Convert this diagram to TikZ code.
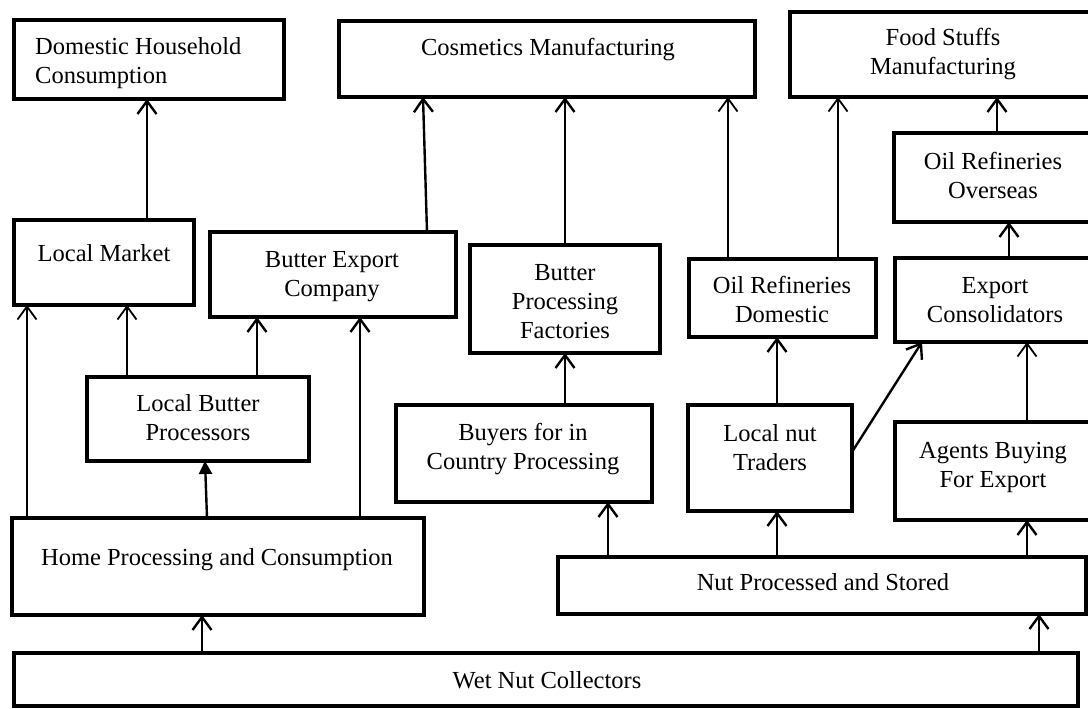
\documentclass[tikz,border=0pt]{standalone}
\usepackage{fontspec}
\setmainfont{Liberation Serif}
\usetikzlibrary{arrows.meta}
\tikzset{
  box/.style={draw, line width=4pt, rectangle, inner sep=0pt, outer sep=0pt, anchor=north west},
  txt/.style={font=\fontsize{24.5}{29}\selectfont, align=center, inner sep=0pt, anchor=base},
  arr/.style={line width=2.4pt, -{Straight Barb[length=13pt,width=19pt]}},
  thinarr/.style={arr, line width=1.8pt},
  fillarr/.style={line width=2.4pt, -{Triangle[length=13pt,width=13pt]}},
}
\begin{document}
\begin{tikzpicture}[x=1pt,y=-1pt]
\useasboundingbox (0,0) rectangle (1088,709);
% boxes
\node[box, minimum width=270, minimum height=79] (dhc) at (14,20) {};
\node[box, minimum width=416, minimum height=76] (cos) at (339,21) {};
\node[box, minimum width=305, minimum height=85] (food) at (790,12) {};
\node[box, minimum width=201, minimum height=89] (oro) at (894,133) {};
\node[box, minimum width=180, minimum height=85] (lm) at (14,220) {};
\node[box, minimum width=246, minimum height=85] (bec) at (210,232) {};
\node[box, minimum width=190, minimum height=108] (bpf) at (470,245) {};
\node[box, minimum width=187, minimum height=78] (ord) at (689,259) {};
\node[box, minimum width=200, minimum height=84] (ec) at (895,258) {};
\node[box, minimum width=222, minimum height=84] (lbp) at (87,377) {};
\node[box, minimum width=256, minimum height=97] (buy) at (396,405) {};
\node[box, minimum width=164, minimum height=106] (lnt) at (688,405) {};
\node[box, minimum width=200, minimum height=98] (abe) at (895,422) {};
\node[box, minimum width=412, minimum height=97] (hpc) at (12,518) {};
\node[box, minimum width=528, minimum height=57] (nps) at (558,557) {};
\node[box, minimum width=1064, minimum height=53] (wnc) at (14,653) {};
% texts (base = baseline of last line)
\node[txt, anchor=base west, align=left] (dhc-t) at (35,84) {Domestic Household\\Consumption};
\node[txt] (cos-t) at (548,56) {Cosmetics Manufacturing};
\node[txt] (food-t) at (943,75) {Food Stuffs\\Manufacturing};
\node[txt] (oro-t) at (993,198) {Oil Refineries\\Overseas};
\node[txt] (lm-t) at (104,261) {Local Market};
\node[txt] (bec-t) at (332,296) {Butter Export\\Company};
\node[txt] (bpf-t) at (565,338) {Butter\\Processing\\Factories};
\node[txt] (ord-t) at (782,322) {Oil Refineries\\Domestic};
\node[txt] (ec-t) at (995,322) {Export\\Consolidators};
\node[txt] (lbp-t) at (198,440) {Local Butter\\Processors};
\node[txt] (buy-t) at (523,469) {Buyers for in\\Country Processing};
\node[txt] (lnt-t) at (770,470) {Local nut\\Traders};
\node[txt] (abe-t) at (993,487) {Agents Buying\\For Export};
\node[txt] (hpc-t) at (217,565) {Home Processing and Consumption};
\node[txt] (nps-t) at (823,590) {Nut Processed and Stored};
\node[txt] (wnc-t) at (547,688) {Wet Nut Collectors};
% connectors
\draw[arr] (lm.north -| 147,0) -- (dhc.south -| 147,0);
\draw[arr] (bec.north -| 427,0) -- (cos.south -| 423,0);
\draw[arr] (bpf.north) -- (cos.south -| bpf.north);
\draw[thinarr] (ord.north -| 728,0) -- (cos.south -| 728,0);
\draw[thinarr] (ord.north -| 838,0) -- (food.south -| 838,0);
\draw[arr] (oro.north -| 997,0) -- (food.south -| 997,0);
\draw[arr] (ec.north -| 1009,0) -- (oro.south -| 1009,0);
\draw[thinarr] (hpc.north -| 27,0) -- (lm.south -| 27,0);
\draw[thinarr] (lbp.north -| 127,0) -- (lm.south -| 127,0);
\draw[arr] (lbp.north -| 257,0) -- (bec.south -| 257,0);
\draw[arr] (hpc.north -| 360,0) -- (bec.south -| 360,0);
\draw[fillarr] (hpc.north -| 207,0) -- (lbp.south -| 205,0);
\draw[arr] (buy.north -| 565,0) -- (bpf.south);
\draw[arr] (lnt.north -| 777,0) -- (ord.south -| 777,0);
\draw[arr] (lnt.east |- 0,452) -- (ec.south -| 922,0);
\draw[thinarr] (abe.north -| 1027,0) -- (ec.south -| 1027,0);
\draw[arr] (nps.north -| 608,0) -- (buy.south -| 608,0);
\draw[arr] (nps.north -| 777,0) -- (lnt.south -| 777,0);
\draw[arr] (nps.north -| 1027,0) -- (abe.south -| 1027,0);
\draw[arr] (wnc.north -| 202,0) -- (hpc.south -| 202,0);
\draw[arr] (wnc.north -| 1039,0) -- (nps.south -| 1039,0);
\end{tikzpicture}
\end{document}
